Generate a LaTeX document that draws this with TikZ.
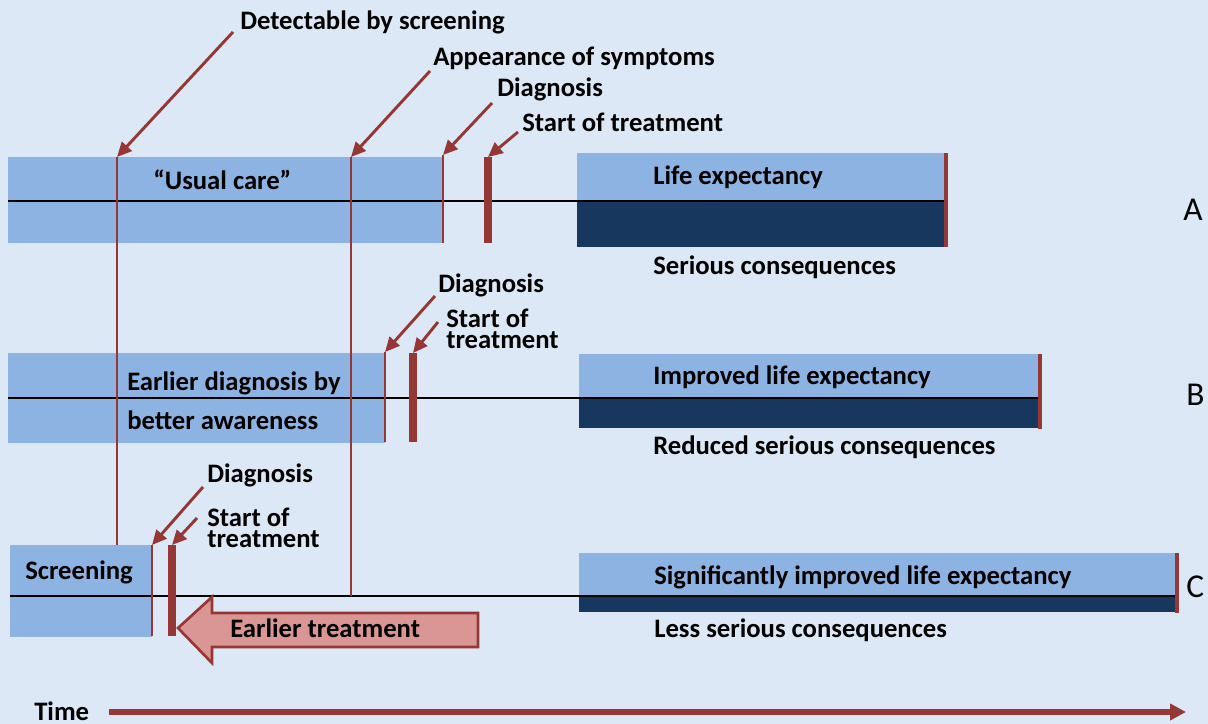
\documentclass[tikz,border=0pt]{standalone}
\usepackage{fontspec}
\setmainfont{Carlito}
\usetikzlibrary{arrows.meta}
\definecolor{bg}{HTML}{DCE8F6}
\definecolor{lb}{HTML}{8DB3E2}
\definecolor{nv}{HTML}{17375E}
\definecolor{rd}{HTML}{953735}
\definecolor{pk}{HTML}{D99694}
\begin{document}
\begin{tikzpicture}[x=0.75pt,y=-0.75pt,
  lbl/.style={font=\bfseries\fontsize{20}{15.8}\selectfont, anchor=west, inner sep=0pt, align=left},
  rowlbl/.style={font=\fontsize{25}{28}\selectfont, anchor=west, inner sep=0pt},
  thinred/.style={draw=rd, line width=2.2pt},
  thickred/.style={draw=rd, line width=6pt},
  endred/.style={draw=rd, line width=3pt},
  ptr/.style={draw=rd, line width=2.2pt, -{Triangle[length=11pt,width=10pt]}},
  axis/.style={draw=black, line width=1.5pt}]
\fill[bg] (0,0) rectangle (1208,724);
\useasboundingbox (0,0) rectangle (1208,724);

% ---------- Row A ----------
\fill[lb] (8,157) rectangle (443,243);
\fill[lb] (577,153) rectangle (946,201);
\fill[nv] (577,201) rectangle (946,247);
\draw[axis] (8,201) -- (946,201);
% ---------- Row B ----------
\fill[lb] (8,353) rectangle (385,443);
\fill[lb] (579,354) rectangle (1039,398);
\fill[nv] (579,398) rectangle (1039,428);
\draw[axis] (8,398) -- (1039,398);
% ---------- Row C ----------
\fill[lb] (10,545) rectangle (152,637);
\fill[lb] (579,553) rectangle (1176,597);
\fill[nv] (579,597) rectangle (1176,612);
\draw[axis] (10,596) -- (1176,596);

% markers
\coordinate (detT) at (117,157);
\coordinate (appT) at (351,157);
\draw[thinred] (detT) -- (117,545);
\draw[thinred] (appT) -- (351,596);
\coordinate (diaA) at (443,155);
\draw[thinred] (diaA) -- (443,243);
\coordinate (stA) at (488,157);
\draw[thickred] (stA) -- (488,243);
\draw[endred] (946,153) -- (946,247);

\coordinate (diaB) at (385,352);
\draw[thinred] (diaB) -- (385,442);
\coordinate (stB) at (413,353);
\draw[thickred] (stB) -- (413,442);
\draw[endred] (1040,354) -- (1040,429);

\coordinate (diaC) at (152,545);
\draw[thinred] (diaC) -- (152,636);
\coordinate (stC) at (172,545);
\draw[thickred] (stC) -- (172,636);
\draw[endred] (1177,553) -- (1177,613);

% Earlier treatment arrow
\draw[fill=pk, draw=rd, line width=2pt, line join=miter]
  (178,628) -- (212,597) -- (212,613) -- (478,613) -- (478,647) -- (212,647) -- (212,663) -- cycle;
\node[lbl] (earl) at (230,628) {Earlier treatment};

% pointer labels
\node[lbl] (det) at (240,22) {Detectable by screening};
\node[lbl] (app) at (433,58) {Appearance of symptoms};
\node[lbl] (diaAl) at (497,89) {Diagnosis};
\node[lbl] (stAl) at (522,122) {Start of treatment};
\coordinate (detS) at (233,32);
\coordinate (appS) at (430,71);
\coordinate (diaAS) at (492,103);
\coordinate (stAS) at (518,132);
\draw[ptr] (detS) -- (detT);
\draw[ptr] (appS) -- (appT);
\draw[ptr] (diaAS) -- (diaA);
\draw[ptr] (stAS) -- (stA);

\node[lbl] (diaBl) at (438,285) {Diagnosis};
\node[lbl] (stBl) at (446,329) {Start of\\treatment};
\coordinate (diaBS) at (435,296);
\coordinate (stBS) at (438,322);
\draw[ptr] (diaBS) -- (diaB);
\draw[ptr] (stBS) -- (stB);

\node[lbl] (diaCl) at (207,475) {Diagnosis};
\node[lbl] (stCl) at (207,528) {Start of\\treatment};
\coordinate (diaCS) at (203,487);
\coordinate (stCS) at (197,518);
\draw[ptr] (diaCS) -- (diaC);
\draw[ptr] (stCS) -- (stC);

% bar texts
\node[lbl] (usual) at (153,180) {“Usual care”};
\node[lbl] (lifeA) at (653,177) {Life expectancy};
\node[lbl] (consA) at (653,267) {Serious consequences};
\node[lbl] (earlB1) at (127,383) {Earlier diagnosis by};
\node[lbl] (earlB2) at (127,420) {better awareness};
\node[lbl] (lifeB) at (653,377) {Improved life expectancy};
\node[lbl] (consB) at (653,447) {Reduced serious consequences};
\node[lbl] (scr) at (25,572) {Screening};
\node[lbl] (lifeC) at (654,577) {Significantly improved life expectancy};
\node[lbl] (consC) at (654,630) {Less serious consequences};

\node[rowlbl] (A) at (1183,210) {A};
\node[rowlbl] (B) at (1186,395) {B};
\node[rowlbl] (C) at (1186,587) {C};

% Time axis
\node[lbl] (time) at (34,711) {Time};
\coordinate (tS) at (109,712);
\coordinate (tE) at (1186,712);
\draw[draw=rd, line width=3.8pt, -{Triangle[length=12pt,width=12pt]}] (tS) -- (tE);
\end{tikzpicture}
\end{document}
